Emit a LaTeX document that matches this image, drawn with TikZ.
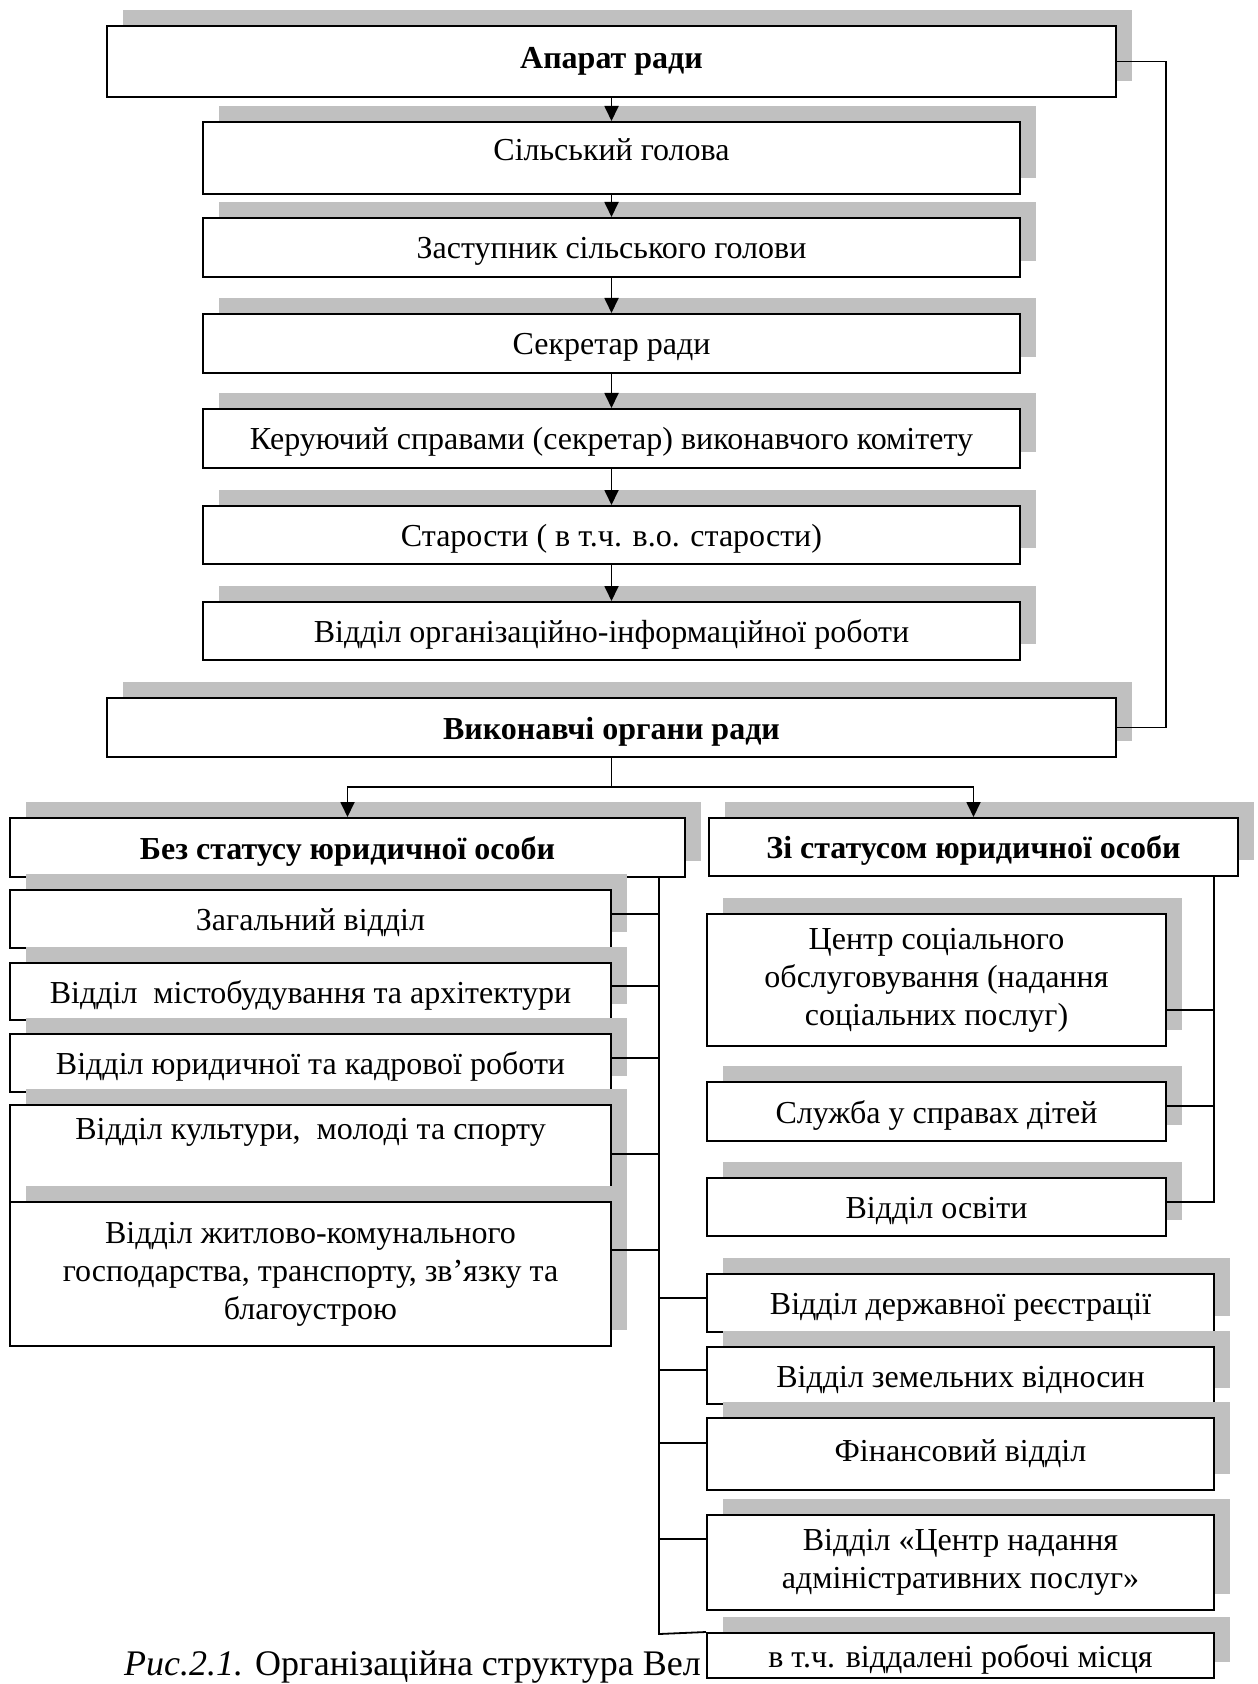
\documentclass[tikz,border=0pt]{standalone}
\usepackage{fontspec}
\setmainfont{Liberation Serif}
\usetikzlibrary{arrows.meta,shadows}
\definecolor{shadowgrey}{RGB}{192,192,192}
\tikzset{
  box/.style={draw,fill=white,line width=1pt,align=center,inner sep=2pt,
    font=\fontsize{16}{19}\selectfont,
    general shadow={fill=shadowgrey,shadow xshift=8pt,shadow yshift=8pt}},
  cell/.style={box,text height=15pt,text depth=3.5pt},
  head/.style={cell,font=\fontsize{16}{19}\selectfont\bfseries},
  link/.style={line width=0.9pt},
  arr/.style={line width=0.9pt,-{Triangle[length=7.5pt,width=7pt]}}
}
\begin{document}
\begin{tikzpicture}[x=0.5pt,y=-0.5pt]
    \useasboundingbox (0,0) rectangle (1257,1684);

    % caption, partly hidden by the last box
    \node[anchor=base west,font=\fontsize{18}{21}\selectfont] (cap) at (117,1675) {\textit{Рис.2.1.} Організаційна структура Вел};

    % apparatus
    \node[head,minimum width=504.5pt,minimum height=35.5pt,text depth=8pt] (apar) at (611.5,61.5) {Апарат ради};
    \node[cell,minimum width=408.5pt,minimum height=36pt,text depth=12pt] (golova) at (611.5,158) {Сільський голова};
    \node[cell,minimum width=408.5pt,minimum height=29.5pt] (zast) at (611.5,247.5) {Заступник сільського голови};
    \node[cell,minimum width=408.5pt,minimum height=29.5pt] (sekr) at (611.5,343.5) {Секретар ради};
    \node[cell,minimum width=408.5pt,minimum height=29.5pt] (keruy) at (611.5,438.5) {Керуючий справами (секретар) виконавчого комітету};
    \node[cell,minimum width=408.5pt,minimum height=29pt] (star) at (611.5,535) {Старости ( в т.ч. в.о. старости)};
    \node[cell,minimum width=408.5pt,minimum height=29pt] (orginf) at (611.5,631) {Відділ організаційно-інформаційної роботи};

    % executive bodies
    \node[head,minimum width=504.5pt,minimum height=29.5pt] (vykon) at (611.5,727.5) {Виконавчі органи ради};
    \node[head,minimum width=337.5pt,minimum height=29.5pt] (bez) at (347.5,847.5) {Без статусу юридичної особи};
    \node[head,minimum width=264.5pt,minimum height=29pt] (zi) at (973.5,847) {Зі статусом юридичної особи};

    % left column
    \node[cell,minimum width=300.5pt,minimum height=29pt] (zag) at (310.5,919) {Загальний відділ};
    \node[cell,minimum width=300.5pt,minimum height=28.5pt] (mist) at (310.5,991.5) {Відділ\ \ містобудування та архітектури};
    \node[cell,minimum width=300.5pt,minimum height=29pt] (yur) at (310.5,1063) {Відділ юридичної та кадрової роботи};
    \node[cell,minimum width=300.5pt,minimum height=48pt,text depth=30pt] (kult) at (310.5,1154) {Відділ культури,\ \ молоді та спорту};
    \node[box,minimum width=300.5pt,minimum height=72pt] (zhytl) at (310.5,1274) {Відділ житлово-комунального\\господарства, транспорту, зв’язку та\\благоустрою};

    % with legal status
    \node[box,minimum width=229.5pt,minimum height=66pt] (csoc) at (936.5,980) {Центр соціального\\обслуговування (надання\\соціальних послуг)};
    \node[cell,minimum width=229.5pt,minimum height=29.5pt] (sluzh) at (936.5,1111.5) {Служба у справах дітей};
    \node[cell,minimum width=229.5pt,minimum height=29pt] (osv) at (936.5,1207) {Відділ освіти};

    % right column
    \node[cell,minimum width=253.5pt,minimum height=29pt] (derzh) at (960.5,1303) {Відділ державної реєстрації};
    \node[cell,minimum width=253.5pt,minimum height=28.5pt] (zem) at (960.5,1375.5) {Відділ земельних відносин};
    \node[cell,minimum width=253.5pt,minimum height=36pt,text depth=8pt] (fin) at (960.5,1454) {Фінансовий відділ};
    \node[box,minimum width=253.5pt,minimum height=47.5pt] (cnap) at (960.5,1562.5) {Відділ «Центр надання\\адміністративних послуг»};
    \node[cell,minimum width=253.5pt,minimum height=21.5pt] (vtch) at (960.5,1655.5) {в т.ч. віддалені робочі місця};

    % arrows down the apparatus
    \draw[arr] (apar.south) -- (apar.south |- golova.north);
    \draw[arr] (golova.south) -- (golova.south |- zast.north);
    \draw[arr] (zast.south) -- (zast.south |- sekr.north);
    \draw[arr] (sekr.south) -- (sekr.south |- keruy.north);
    \draw[arr] (keruy.south) -- (keruy.south |- star.north);
    \draw[arr] (star.south) -- (star.south |- orginf.north);

    \coordinate (rbus) at (1166,61.5);
    \draw[link] (apar.east) -- (rbus) |- (vykon.east);

    \coordinate (split) at (611.5,787);
    \draw[link] (vykon.south) -- (split);
    \draw[arr] (split) -| (bez.north);
    \draw[arr] (split) -| (zi.north);

    % left bus
    \coordinate (ltop) at (659,877);
    \coordinate (lbot) at (659,1634);
    \draw[link] (ltop) -- (lbot) -- (vtch.north west);
    \draw[link] ([yshift=2.5pt]zag.east) -- ([yshift=2.5pt]zag.east -| ltop);
    \draw[link] ([yshift=2.75pt]mist.east) -- ([yshift=2.75pt]mist.east -| ltop);
    \draw[link] ([yshift=2.5pt]yur.east) -- ([yshift=2.5pt]yur.east -| ltop);
    \draw[link] (kult.east) -- (kult.east -| ltop);
    \draw[link] ([yshift=12pt]zhytl.east) -- ([yshift=12pt]zhytl.east -| ltop);
    \draw[link] ([yshift=2.5pt]derzh.west) -- ([yshift=2.5pt]derzh.west -| ltop);
    \draw[link] ([yshift=2.75pt]zem.west) -- ([yshift=2.75pt]zem.west -| ltop);
    \draw[link] ([yshift=5.5pt]fin.west) -- ([yshift=5.5pt]fin.west -| ltop);
    \draw[link] ([yshift=11.75pt]cnap.west) -- ([yshift=11.75pt]cnap.west -| ltop);

    % right bus
    \coordinate (rtop) at (1214,876);
    \draw[link] (rtop) |- ([yshift=2.5pt]osv.east);
    \draw[link] ([yshift=-15pt]csoc.east) -- ([yshift=-15pt]csoc.east -| rtop);
    \draw[link] ([yshift=2.75pt]sluzh.east) -- ([yshift=2.75pt]sluzh.east -| rtop);
\end{tikzpicture}
\end{document}
